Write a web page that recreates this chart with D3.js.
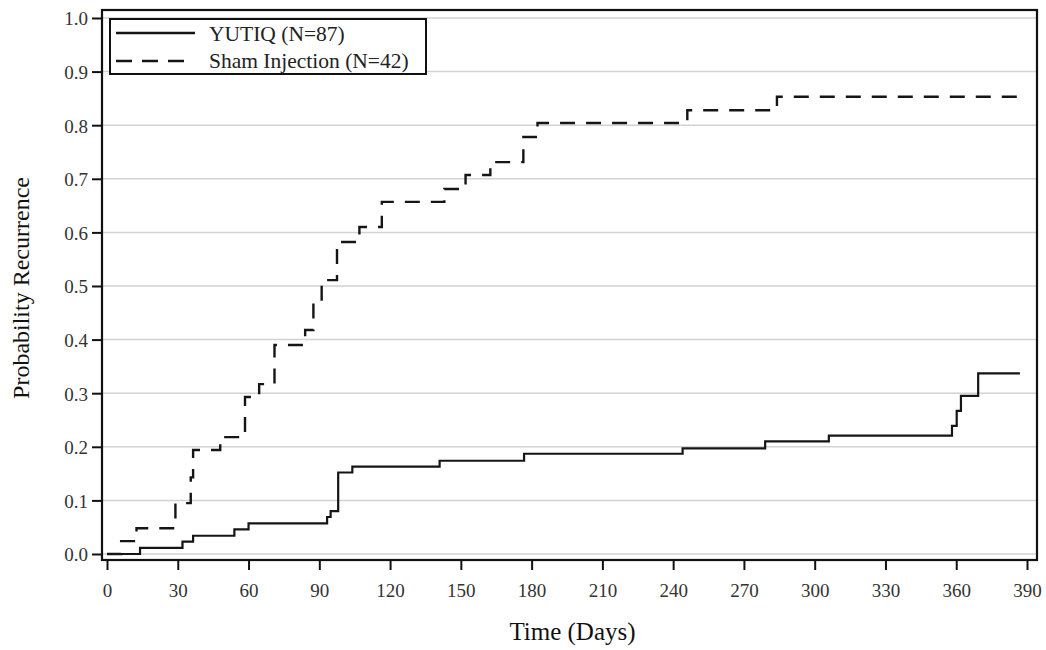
<!DOCTYPE html>
<html>
<head>
<meta charset="utf-8">
<script src="https://cdn.jsdelivr.net/npm/d3@7"></script>
<style>
  body { margin: 0; background: #fff; }
  svg { font-family: "Liberation Serif", "Times New Roman", serif; }
  .tick line { stroke: #111; stroke-width: 2; }
</style>
</head>
<body>
<svg id="chart"></svg>
<script>
// Kaplan-Meier style cumulative recurrence
const yutiqDays   = [0, 14, 32, 36.5, 54, 60, 93.3, 94.8, 98, 104, 141, 176.8, 244, 279, 306, 358.2, 360.2, 362, 369.3, 387];
const yutiqValues = [0, 0.0115, 0.023, 0.034, 0.046, 0.057, 0.069, 0.080, 0.152, 0.163, 0.174, 0.187, 0.197, 0.210, 0.221, 0.239, 0.267, 0.295, 0.337, 0.337];

const shamDays   = [0, 6, 12.5, 29, 35.5, 36.5, 48, 58.5, 64.5, 71, 84, 87.5, 91, 97.5, 107, 116.5, 143, 152, 162.5, 176.5, 182.5, 246, 284, 388];
const shamValues = [0, 0.024, 0.048, 0.095, 0.143, 0.194, 0.218, 0.293, 0.317, 0.390, 0.418, 0.468, 0.511, 0.582, 0.610, 0.657, 0.681, 0.707, 0.731, 0.778, 0.804, 0.828, 0.853, 0.853];

const xTicks = [0, 30, 60, 90, 120, 150, 180, 210, 240, 270, 300, 330, 360, 390];
const yTicks = [0, 0.1, 0.2, 0.3, 0.4, 0.5, 0.6, 0.7, 0.8, 0.9, 1.0];

const seriesNames = ["YUTIQ (N=87)", "Sham Injection (N=42)"];

const width = 1046, height = 650;
const frame = {left: 102, right: 1037, top: 10, bottom: 560};
const serif = "Liberation Serif";

const svg = d3.select("#chart")
    .attr("width", width)
    .attr("height", height);

const x = d3.scaleLinear()
    .domain([-2.12, 394.24])
    .range([frame.left, frame.right]);

const y = d3.scaleLinear()
    .domain([-0.0112, 1.0149])
    .range([frame.bottom, frame.top]);

// horizontal grid
svg.append("g")
    .selectAll("line")
    .data(yTicks)
    .join("line")
    .attr("x1", frame.left)
    .attr("x2", frame.right)
    .attr("y1", d => y(d))
    .attr("y2", d => y(d))
    .attr("stroke", "#d2d2d2")
    .attr("stroke-width", 1.5);

// axes
const xAxis = svg.append("g")
    .attr("transform", `translate(0,${frame.bottom})`)
    .call(d3.axisBottom(x).tickValues(xTicks).tickSize(10).tickPadding(14).tickFormat(d3.format("d")))
    .attr("font-family", serif)
    .attr("font-size", 19);
xAxis.select(".domain").remove();

const yAxis = svg.append("g")
    .attr("transform", `translate(${frame.left},0)`)
    .call(d3.axisLeft(y).tickValues(yTicks).tickSize(10).tickPadding(4).tickFormat(d3.format(".1f")))
    .attr("font-family", serif)
    .attr("font-size", 19);
yAxis.select(".domain").remove();
yAxis.selectAll(".tick text").attr("dy", "0.36em");

svg.selectAll(".tick text").attr("fill", "#333");

// curves
const line = d3.line()
    .x(d => x(d[0]))
    .y(d => y(d[1]))
    .curve(d3.curveStepAfter);

const yutiq = d3.zip(yutiqDays, yutiqValues);
const sham = d3.zip(shamDays, shamValues);

svg.append("path")
    .datum(yutiq)
    .attr("d", line)
    .attr("fill", "none")
    .attr("stroke", "#151515")
    .attr("stroke-width", 2.2);

svg.append("path")
    .datum(sham)
    .attr("d", line)
    .attr("fill", "none")
    .attr("stroke", "#151515")
    .attr("stroke-width", 2.4)
    .attr("stroke-dasharray", "15,11");

// frame
svg.append("rect")
    .attr("x", frame.left)
    .attr("y", frame.top)
    .attr("width", frame.right - frame.left)
    .attr("height", frame.bottom - frame.top)
    .attr("fill", "none")
    .attr("stroke", "#111")
    .attr("stroke-width", 2.2);

// legend
const legend = svg.append("g");
legend.append("rect")
    .attr("x", 110)
    .attr("y", 19)
    .attr("width", 316)
    .attr("height", 55)
    .attr("fill", "#fff")
    .attr("stroke", "#111")
    .attr("stroke-width", 2);

legend.selectAll("line")
    .data(seriesNames)
    .join("line")
    .attr("x1", 116)
    .attr("x2", (d, i) => i === 0 ? 195 : 186)
    .attr("y1", (d, i) => 33 + i * 28)
    .attr("y2", (d, i) => 33 + i * 28)
    .attr("stroke", "#151515")
    .attr("stroke-width", 2.4)
    .attr("stroke-dasharray", (d, i) => i === 0 ? null : "16,10");

legend.selectAll("text")
    .data(seriesNames)
    .join("text")
    .attr("x", 209)
    .attr("y", (d, i) => 41 + i * 27)
    .attr("font-size", 21.5)
    .attr("fill", "#222")
    .text(d => d);

// axis titles
svg.append("text")
    .attr("x", (frame.left + frame.right) / 2 + 3)
    .attr("y", 640)
    .attr("text-anchor", "middle")
    .attr("font-size", 25)
    .attr("fill", "#111")
    .text("Time (Days)");

svg.append("text")
    .attr("transform", `translate(29,288) rotate(-90)`)
    .attr("text-anchor", "middle")
    .attr("font-size", 24)
    .attr("fill", "#111")
    .text("Probability Recurrence");
</script>
</body>
</html>
